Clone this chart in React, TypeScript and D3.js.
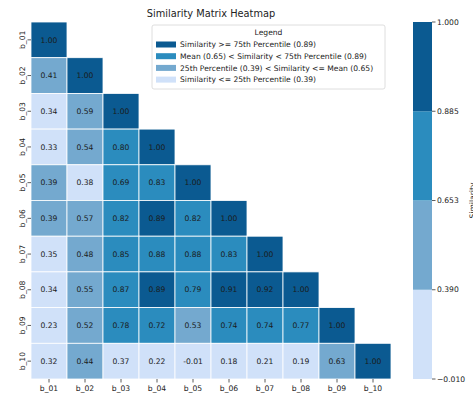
import React from "react";
import * as d3 from "d3";

// Lower-triangle similarity values, row by row (row i has i+1 entries)
const labels = ["b_01", "b_02", "b_03", "b_04", "b_05", "b_06", "b_07", "b_08", "b_09", "b_10"];
const lowerTriangle: number[][] = [
  [1.0],
  [0.41, 1.0],
  [0.34, 0.59, 1.0],
  [0.33, 0.54, 0.8, 1.0],
  [0.39, 0.38, 0.69, 0.83, 1.0],
  [0.39, 0.57, 0.82, 0.89, 0.82, 1.0],
  [0.35, 0.48, 0.85, 0.88, 0.88, 0.83, 1.0],
  [0.34, 0.55, 0.87, 0.89, 0.79, 0.91, 0.92, 1.0],
  [0.23, 0.52, 0.78, 0.72, 0.53, 0.74, 0.74, 0.77, 1.0],
  [0.32, 0.44, 0.37, 0.22, -0.01, 0.18, 0.21, 0.19, 0.63, 1.0],
];

// Bin boundaries: min, 25th percentile, mean, 75th percentile, max
const boundaries = [-0.01, 0.39, 0.653, 0.885, 1.0];
const binColors = ["#d0e1f9", "#74a9cf", "#2b8cbe", "#0b5a91"];
const legendEntries = [
  "Similarity >= 75th Percentile (0.89)",
  "Mean (0.65) < Similarity < 75th Percentile (0.89)",
  "25th Percentile (0.39) < Similarity <= Mean (0.65)",
  "Similarity <= 25th Percentile (0.39)",
];
const legendColors = [binColors[3], binColors[2], binColors[1], binColors[0]];

const W = 473;
const H = 393;
const FONT = "DejaVu Sans, sans-serif";

export default function App() {
  const left = 31, right = 391, top = 22, bottom = 379;
  const x = d3.scaleBand<string>().domain(labels).range([left, right]);
  const y = d3.scaleBand<string>().domain(labels).range([top, bottom]);
  const color = d3.scaleThreshold<number, string>()
    .domain(boundaries.slice(1, -1))
    .range(binColors);

  const cells = lowerTriangle.flatMap((row, i) =>
    row.map((v, j) => ({ r: labels[i], c: labels[j], v }))
  );

  // Colorbar: uniform spacing per bin
  const cbX = 413, cbW = 19;
  const cbY = d3.scaleLinear().domain([0, boundaries.length - 1]).range([bottom, top]);
  const fmt3 = d3.format(".3f");

  const lgX = 152, lgY = 25, lgW = 233, lgH = 64;

  return (
    <svg width={W} height={H} style={{ position: "absolute", left: 0, top: 0 }} fontFamily={FONT}>
      <rect width={W} height={H} fill="#fff" />
      <text x={(left + right) / 2} y={17} textAnchor="middle" fontSize={9.8} fill="#222">
        Similarity Matrix Heatmap
      </text>

      {cells.map((d) => (
        <g key={d.r + d.c}>
          <rect x={x(d.c)} y={y(d.r)} width={x.bandwidth()} height={y.bandwidth()}
            fill={color(d.v)} stroke="#fff" strokeWidth={0.8} />
          <text x={x(d.c)! + x.bandwidth() / 2} y={y(d.r)! + y.bandwidth() / 2}
            dy="0.35em" textAnchor="middle" fontSize={7.6} fill="#1a1a1a">
            {d.v.toFixed(2)}
          </text>
        </g>
      ))}

      {/* y axis */}
      {labels.map((l) => {
        const cy = y(l)! + y.bandwidth() / 2;
        return (
          <g key={"y" + l}>
            <line x1={left - 3.5} x2={left} y1={cy} y2={cy} stroke="#333" strokeWidth={0.8} />
            <text transform={`translate(${left - 6},${cy}) rotate(-90)`} textAnchor="middle"
              fontSize={7.6} fill="#222">{l}</text>
          </g>
        );
      })}
      {/* x axis */}
      {labels.map((l) => {
        const cx = x(l)! + x.bandwidth() / 2;
        return (
          <g key={"x" + l}>
            <line x1={cx} x2={cx} y1={bottom} y2={bottom + 3.5} stroke="#333" strokeWidth={0.8} />
            <text x={cx} y={bottom + 12} textAnchor="middle" fontSize={7.6} fill="#222">{l}</text>
          </g>
        );
      })}

      {/* legend */}
      <rect x={lgX} y={lgY} width={lgW} height={lgH} rx={2} fill="#fff" fillOpacity={0.8}
        stroke="#d6d6d6" strokeWidth={0.8} />
      <text x={lgX + lgW / 2} y={lgY + 10} textAnchor="middle" fontSize={7.6} fill="#222">Legend</text>
      {legendEntries.map((t, i) => {
        const cy = lgY + 19.5 + i * 11.7;
        return (
          <g key={t}>
            <rect x={lgX + 4} y={cy - 3} width={20} height={6} fill={legendColors[i]} />
            <text x={lgX + 28} y={cy} dy="0.35em" fontSize={7.6} fill="#222">{t}</text>
          </g>
        );
      })}

      {/* colorbar */}
      {binColors.map((c, i) => (
        <rect key={c} x={cbX} y={cbY(i + 1)} width={cbW} height={cbY(i) - cbY(i + 1)} fill={c} />
      ))}
      {boundaries.map((b, i) => (
        <g key={"cb" + i}>
          <line x1={cbX + cbW} x2={cbX + cbW + 3.5} y1={cbY(i)} y2={cbY(i)} stroke="#333" strokeWidth={0.8} />
          <text x={cbX + cbW + 5} y={cbY(i)} dy="0.35em" fontSize={7.6} fill="#222">{fmt3(b)}</text>
        </g>
      ))}
      <text transform={`translate(475,${(top + bottom) / 2}) rotate(-90)`} textAnchor="middle"
        fontSize={7.6} fill="#222">Similarity</text>
    </svg>
  );
}
